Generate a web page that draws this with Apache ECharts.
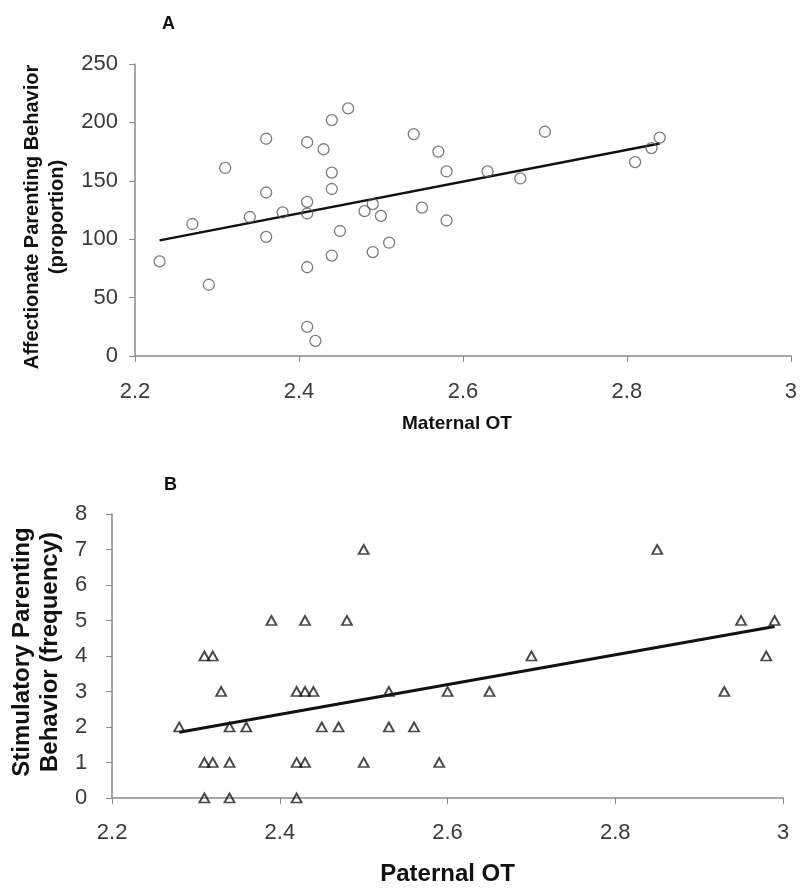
<!DOCTYPE html>
<html>
<head>
<meta charset="utf-8">
<script src="https://cdn.jsdelivr.net/npm/echarts@6/dist/echarts.min.js"></script>
<style>
  html, body { margin: 0; padding: 0; background: #fff; }
  #chart { width: 800px; height: 889px; }
</style>
</head>
<body>
<div id="chart"></div>
<script>
// panel A - maternal OT vs affectionate parenting
const maternalOT = [2.23, 2.27, 2.29, 2.31, 2.34, 2.36, 2.36, 2.36, 2.38, 2.41, 2.41, 2.41, 2.41, 2.41, 2.42, 2.43, 2.44, 2.44, 2.44, 2.44, 2.45, 2.46, 2.48, 2.49, 2.49, 2.5, 2.51, 2.54, 2.55, 2.57, 2.58, 2.58, 2.63, 2.67, 2.7, 2.81, 2.83, 2.84];
const affectionate = [81, 113, 61, 161, 119, 186, 140, 102, 123, 183, 132, 122, 76, 25, 13, 177, 202, 157, 143, 86, 107, 212, 124, 130, 89, 120, 97, 190, 127, 175, 158, 116, 158, 152, 192, 166, 178, 187];
const fitAx = [2.23, 2.84];
const fitAy = [99, 182];

// panel B - paternal OT vs stimulatory parenting
const paternalOT = [2.28, 2.31, 2.32, 2.33, 2.34, 2.36, 2.31, 2.32, 2.34, 2.31, 2.34, 2.42, 2.39, 2.43, 2.48, 2.5, 2.42, 2.43, 2.44, 2.53, 2.6, 2.42, 2.43, 2.45, 2.47, 2.53, 2.56, 2.5, 2.59, 2.85, 2.65, 2.7, 2.95, 2.99, 2.98, 2.93];
const stimulatory = [2, 4, 4, 3, 2, 2, 1, 1, 1, 0, 0, 0, 5, 5, 5, 7, 3, 3, 3, 3, 3, 1, 1, 2, 2, 2, 2, 1, 1, 7, 3, 4, 5, 5, 4, 3];
const fitBx = [2.28, 2.99];
const fitBy = [1.85, 4.83];

const FONT = '"Liberation Sans", Arial, sans-serif';

const pairs = (xs, ys) => xs.map((x, i) => [x, ys[i]]);

const xAxisBase = (gridIndex, name, nameGap, nameSize, labelMargin, namePadding) => ({
  gridIndex,
  type: 'value',
  min: 2.2,
  max: 3,
  interval: 0.2,
  name,
  nameLocation: 'middle',
  nameGap,
  nameTextStyle: { fontFamily: FONT, fontWeight: 'bold', fontSize: nameSize, color: '#111', padding: namePadding },
  axisLine: { show: true, lineStyle: { color: '#8a8a8a', width: 1.5 } },
  axisTick: { show: true, inside: false, length: 6, lineStyle: { color: '#8a8a8a' } },
  axisLabel: { fontFamily: FONT, fontSize: 22, color: '#3a3a3a', margin: labelMargin },
  splitLine: { show: false },
});

const yAxisBase = (gridIndex, max, interval, name, nameGap, nameSize, lineHeight, namePadding, labelMargin) => ({
  gridIndex,
  type: 'value',
  min: 0,
  max,
  interval,
  name,
  nameLocation: 'middle',
  nameGap,
  nameTextStyle: { fontFamily: FONT, fontWeight: 'bold', fontSize: nameSize, color: '#111', lineHeight, padding: namePadding },
  axisLine: { show: true, lineStyle: { color: '#8a8a8a', width: 1.5 } },
  axisTick: { show: true, inside: false, length: 6, lineStyle: { color: '#8a8a8a' } },
  axisLabel: { fontFamily: FONT, fontSize: 22, color: '#3a3a3a', margin: labelMargin },
  splitLine: { show: false },
});

const chart = echarts.init(document.getElementById('chart'), null, { renderer: 'canvas' });

const option = {
  backgroundColor: '#fff',
  animation: false,
  title: [
    { text: 'A', left: 162, top: 15, padding: 0, textStyle: { fontFamily: FONT, fontSize: 18, fontWeight: 'bold', color: '#111' } },
    { text: 'B', left: 164, top: 476, padding: 0, textStyle: { fontFamily: FONT, fontSize: 18, fontWeight: 'bold', color: '#111' } },
  ],
  grid: [
    { left: 135, right: 5, top: 64, height: 292 },
    { left: 110, right: 17, top: 514, height: 284 },
  ],
  xAxis: [
    xAxisBase(0, 'Maternal OT', 58, 19, 25, [0, 12, 0, 0]),
    xAxisBase(1, 'Paternal OT', 64, 24, 24, [0, 0, 0, 0]),
  ],
  yAxis: [
    yAxisBase(0, 250, 50, 'Affectionate Parenting Behavior\n(proportion)', 64, 20, 25, [0, 14, 0, 0], 17),
    yAxisBase(1, 8, 1, 'Stimulatory Parenting\nBehavior (frequency)', 43, 24, 28, [0, 0, 0, 8], 25),
  ],
  series: [
    {
      type: 'scatter',
      xAxisIndex: 0,
      yAxisIndex: 0,
      symbol: 'circle',
      symbolSize: 11,
      itemStyle: { color: 'rgba(255,255,255,0)', borderColor: '#5a5a5a', borderWidth: 1.3 },
      data: pairs(maternalOT, affectionate),
      z: 3,
    },
    {
      type: 'line',
      xAxisIndex: 0,
      yAxisIndex: 0,
      showSymbol: false,
      lineStyle: { color: '#111', width: 2.5 },
      data: pairs(fitAx, fitAy),
      z: 2,
    },
    {
      type: 'scatter',
      xAxisIndex: 1,
      yAxisIndex: 1,
      symbol: 'triangle',
      symbolSize: [10, 9],
      itemStyle: { color: 'rgba(255,255,255,0)', borderColor: '#1a1a1a', borderWidth: 1.8 },
      data: pairs(paternalOT, stimulatory),
      z: 3,
    },
    {
      type: 'line',
      xAxisIndex: 1,
      yAxisIndex: 1,
      showSymbol: false,
      lineStyle: { color: '#111', width: 3 },
      data: pairs(fitBx, fitBy),
      z: 2,
    },
  ],
};

chart.setOption(option);
</script>
</body>
</html>
